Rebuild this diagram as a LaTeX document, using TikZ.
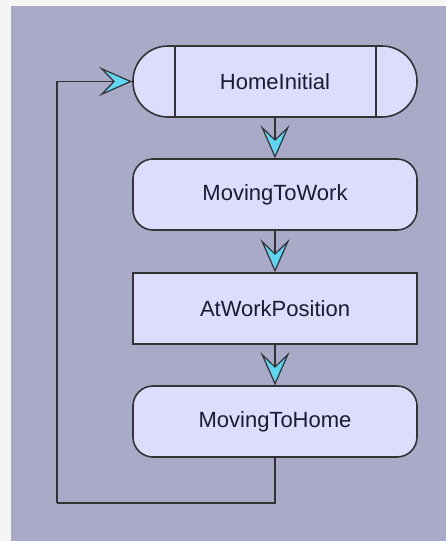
\documentclass[tikz,border=0pt]{standalone}
\usepackage{fontspec}
\setmainfont{Liberation Sans}
\usetikzlibrary{arrows.meta}
\definecolor{pagebg}{HTML}{F5F5F5}
\definecolor{panelbg}{HTML}{A9A9C8}
\definecolor{statefill}{HTML}{DCDCFC}
\definecolor{edgecol}{HTML}{333333}
\definecolor{tipcyan}{HTML}{5ED6F2}
\definecolor{labelcol}{HTML}{1A1A30}
\tikzset{
  statebox/.style={draw=edgecol, line width=1.6pt, fill=statefill,
    minimum width=284pt, minimum height=71pt, inner sep=0pt,
    font=\fontsize{22}{26}\selectfont, text=labelcol},
  roundstate/.style={statebox, rounded corners=20pt},
  plainstate/.style={statebox},
  termstate/.style={statebox, rounded corners=35pt},
  flow/.style={draw=edgecol, line width=1.5pt,
    -{Stealth[length=33pt, width=29pt, inset=14pt, fill=tipcyan, line width=1.2pt]}},
  loopline/.style={draw=edgecol, line width=1.5pt}
}
\begin{document}
\begin{tikzpicture}[x=1pt, y=-1pt]
  % canvas and panel
  \fill[pagebg] (0,0) rectangle (446,541);
  \useasboundingbox (0,0) rectangle (446,541);
  \fill[panelbg] (11,6) rectangle (446,541);

  % states
  \node[termstate]  (hi)  at (275,81.5)  {HomeInitial};
  \node[roundstate] (mtw) at (275,194.5) {MovingToWork};
  \node[plainstate] (awp) at (275,308.5) {AtWorkPosition};
  \node[roundstate] (mth) at (275,421.5) {MovingToHome};

  % inner bars of the initial state
  \draw[edgecol, line width=1.6pt] ([xshift=43pt]hi.north west) -- ([xshift=43pt]hi.south west);
  \draw[edgecol, line width=1.6pt] ([xshift=-42pt]hi.north east) -- ([xshift=-42pt]hi.south east);

  % transitions
  \draw[flow] (hi.south) -- (mtw.north);
  \draw[flow] (mtw.south) -- (awp.north);
  \draw[flow] (awp.south) -- (mth.north);

  % return loop
  \coordinate (loopcorner) at (57,503);
  \draw[loopline] (mth.south) |- (loopcorner);
  \draw[flow] (loopcorner) |- (hi.west);
\end{tikzpicture}
\end{document}
